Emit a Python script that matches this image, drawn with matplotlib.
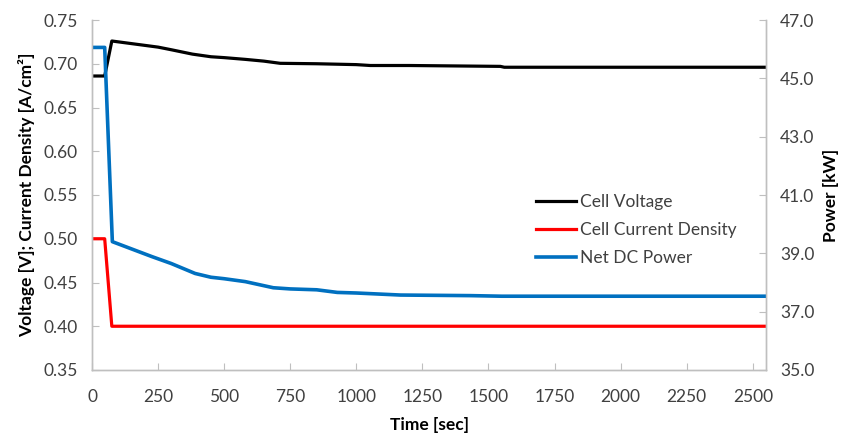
import matplotlib.pyplot as plt

# values
time_s = [0, 48, 75, 150, 250, 300, 380, 450, 500, 580, 650, 712, 850, 1000, 1053, 1200, 1545, 1560, 2550]
cell_voltage = [0.686, 0.686, 0.726, 0.723, 0.719, 0.716, 0.711, 0.708, 0.707, 0.705, 0.703, 0.7005, 0.700, 0.699, 0.698, 0.698, 0.697, 0.696, 0.696]

current_time = [0, 48, 75, 2550]
current_density = [0.50, 0.50, 0.40, 0.40]

power_time = [0, 48, 77, 150, 226, 300, 390, 450, 500, 580, 686, 750, 850, 928, 1000, 1167, 1432, 1550, 2550]
net_power = [46.06, 46.06, 39.4, 39.15, 38.89, 38.65, 38.31, 38.18, 38.13, 38.03, 37.82, 37.78, 37.75, 37.66, 37.64, 37.57, 37.55, 37.53, 37.53]

x_ticks = [0, 250, 500, 750, 1000, 1250, 1500, 1750, 2000, 2250, 2500]
left_ticks = [0.35, 0.40, 0.45, 0.50, 0.55, 0.60, 0.65, 0.70, 0.75]
right_ticks = [35, 37, 39, 41, 43, 45, 47]

plt.rcParams['font.family'] = ['Lato', 'DejaVu Sans']
plt.rcParams['font.size'] = 12.5

grey = '#bfbfbf'
text_col = '#404040'

fig = plt.figure(figsize=(8.42, 4.37), dpi=100)
ax = fig.add_axes([92 / 842, 67 / 437, 674 / 842, 350 / 437])
ax2 = ax.twinx()

l1, = ax.plot(time_s, cell_voltage, color='black', lw=2.3, label='Cell Voltage')
l2, = ax.plot(current_time, current_density, color='#ff0000', lw=2.3, label='Cell Current Density')
l3, = ax2.plot(power_time, net_power, color='#0070c0', lw=2.6, label='Net DC Power')

ax.set_xlim(0, 2550)
ax.set_ylim(0.35, 0.75)
ax2.set_ylim(35, 47)
ax.set_xticks(x_ticks)
ax.set_yticks(left_ticks)
ax.set_yticklabels([f'{v:.2f}' for v in left_ticks])
ax2.set_yticks(right_ticks)
ax2.set_yticklabels([f'{v:.1f}' for v in right_ticks])

for a in (ax, ax2):
    a.spines['top'].set_visible(False)
    for s in ('left', 'right', 'bottom'):
        a.spines[s].set_color(grey)
        a.spines[s].set_linewidth(1)
    a.tick_params(direction='in', length=5, color=grey, labelcolor=text_col, pad=10)
ax.tick_params(axis='x', pad=14)

ax.set_xlabel('Time [sec]', fontweight='bold', labelpad=8)
ax.set_ylabel('Voltage [V]; Current Density [A/cm²]', fontweight='bold', labelpad=6)
ax2.set_ylabel('Power [kW]', fontweight='bold', labelpad=6)

ax.legend(handles=[l1, l2, l3], loc='center left', bbox_to_anchor=(0.635, 0.40),
          frameon=False, handlelength=2.3, handletextpad=0.25, labelspacing=0.7,
          labelcolor=text_col)

fig.savefig('out.png', dpi=100)
